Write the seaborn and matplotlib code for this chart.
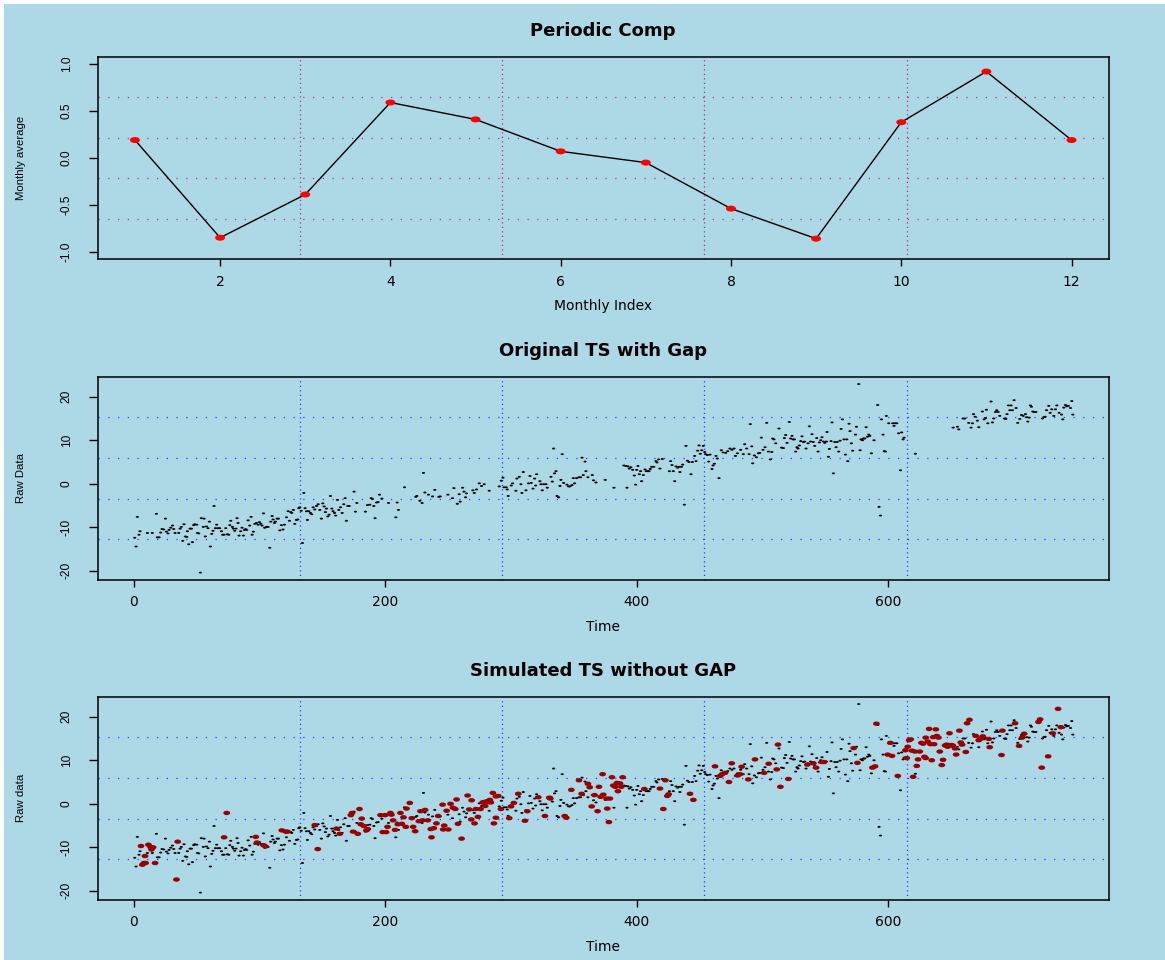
import matplotlib
matplotlib.use("Agg")
import matplotlib.pyplot as plt
from matplotlib.path import Path
from matplotlib.markers import MarkerStyle
from matplotlib.transforms import Affine2D
from matplotlib.patches import Rectangle
from matplotlib.ticker import FixedLocator, FormatStrFormatter
import seaborn as sns

# ---------------------------------------------------------------- data
month_index = [1, 2, 3, 4, 5, 6, 7, 8, 9, 10, 11, 12]
monthly_average = [0.19, -0.85, -0.39, 0.59, 0.41, 0.07, -0.05, -0.54, -0.86, 0.38, 0.92, 0.19]

observed_time = [
    0.8, 1.9, 2.9, 4.2, 5.0, 10.9, 14.8, 18.0, 18.8, 20.2, 21.5, 22.5, 23.9, 25.2, 26.0, 27.3,
    28.1, 29.4, 30.8, 31.8, 32.9, 35.8, 36.9, 37.9, 39.0, 40.0, 41.1, 42.2, 42.7, 43.8, 44.8,
    45.9, 46.7, 47.7, 48.5, 50.1, 50.7, 51.7, 53.0, 53.8, 55.4, 56.0, 57.0, 57.8, 59.1, 60.2,
    61.0, 62.1, 63.1, 63.9, 65.0, 66.0, 67.1, 68.4, 69.8, 70.8, 71.9, 73.2, 74.5, 75.6, 76.4,
    77.2, 78.5, 79.3, 80.4, 81.4, 82.2, 83.0, 83.8, 85.1, 86.2, 87.3, 88.1, 89.1, 89.9, 91.0,
    92.3, 93.4, 94.2, 95.2, 96.3, 97.6, 98.9, 100.0, 101.1, 102.1, 103.2, 104.2, 105.6, 106.9,
    108.2, 109.0, 110.1, 110.9, 111.9, 112.7, 114.1, 115.1, 116.2, 117.5, 118.8, 119.9, 121.5,
    122.8, 123.9, 124.9, 125.7, 127.0, 128.1, 129.4, 130.5, 131.3, 132.1, 133.2, 134.2, 135.3,
    136.3, 137.4, 138.2, 139.3, 140.6, 141.6, 142.7, 144.0, 145.4, 146.7, 148.0, 149.3, 150.4,
    151.5, 152.5, 153.3, 154.4, 155.4, 156.5, 157.6, 158.6, 159.7, 160.7, 162.1, 163.1, 164.5,
    165.8, 167.1, 168.2, 169.2, 170.3, 171.4, 175.3, 176.4, 177.5, 184.3, 185.9, 187.8, 188.9,
    189.9, 191.0, 192.0, 193.1, 194.4, 195.5, 197.4, 202.7, 208.5, 209.6, 210.6, 215.4, 224.4,
    225.2, 227.6, 229.4, 230.5, 231.6, 234.5, 237.7, 239.5, 242.7,
    243.8, 249.9, 253.6, 254.7, 257.4, 258.9, 259.7, 261.6, 262.7, 264.0, 264.8, 269.8, 270.9,
    272.7, 274.9, 276.7, 278.8, 282.8, 290.8, 292.4, 293.7, 294.5, 296.3, 297.1, 297.9, 300.3,
    301.4, 304.0, 304.8, 306.7, 308.0, 308.8, 309.9, 312.0, 314.1, 315.2, 316.2, 317.6, 318.9,
    319.7, 320.5, 323.1, 323.9, 325.0, 326.1, 327.9, 329.0, 331.9, 333.0, 334.0, 334.8, 335.9,
    336.7, 338.0, 339.1, 339.8, 340.9, 342.0, 344.6, 345.9, 347.0, 348.6, 349.7, 350.7, 352.3,
    354.2, 355.5, 356.6, 357.6, 359.0, 359.7, 361.3, 364.8, 365.8, 367.7, 375.1, 382.0, 389.9,
    391.6, 392.4, 393.2, 394.2, 395.5, 396.9, 398.2, 399.3, 400.1, 401.1, 402.2, 403.2, 404.0,
    405.4, 406.7, 407.7, 408.8, 409.9, 410.9, 412.0, 413.6, 415.4, 416.2, 417.6, 418.6, 420.5,
    426.1, 427.1, 428.2, 429.2, 430.3, 431.4, 432.7, 433.7, 434.5, 435.6, 436.7, 438.0, 439.3,
    440.4, 441.7, 443.3, 444.4, 446.2, 447.3, 448.6, 449.7, 450.7, 451.8, 453.1, 454.2, 455.0,
    456.3, 457.4, 458.4, 460.0, 460.8, 461.9, 463.2, 464.2, 465.6, 467.4, 468.8, 470.9, 472.5,
    474.3, 475.9, 477.5, 478.6, 480.2, 482.8, 484.9, 486.0, 487.6, 489.5, 490.5, 491.6, 492.4,
    493.7, 495.3, 496.9, 498.0, 499.3, 500.6, 502.2, 503.5, 504.9,
    506.4, 507.5, 508.3, 509.3, 510.7, 513.3, 515.4, 516.8, 517.6, 518.6, 519.7, 521.5, 522.6,
    523.7, 524.5, 525.5, 526.6, 527.6, 528.4, 529.5, 530.6, 531.6, 532.7, 533.7, 534.8, 536.4,
    537.5, 538.5, 539.6, 540.6, 541.7, 543.3, 544.4, 545.4, 546.5, 547.5, 548.6, 549.7, 551.0,
    551.5, 552.6, 553.4, 554.7, 555.5, 556.6, 557.6, 558.7, 559.7, 560.8, 561.9, 562.7, 563.7,
    565.0, 566.1, 567.2, 568.0, 569.0, 569.8, 570.9, 571.9, 574.1, 574.9, 576.7, 577.8, 578.6,
    579.6, 580.4, 581.5, 582.6, 583.6, 584.7, 585.5, 586.8, 588.9, 591.8, 592.9, 594.0, 594.8,
    596.1, 597.1, 597.9, 598.7, 600.6, 603.8, 604.8, 605.6, 607.0, 608.5, 609.9, 610.9, 612.0,
    612.8, 621.8, 651.8, 655.2, 656.3, 659.7, 661.1, 664.2, 666.1, 667.2, 668.0, 669.3, 671.1,
    672.2, 675.1, 676.5, 677.5, 678.3, 679.4, 682.0, 683.1, 684.1, 685.5, 686.5, 687.6, 688.9,
    692.6, 693.7, 694.7, 695.8, 696.9, 697.9, 699.0, 700.3, 701.9, 703.2, 704.8, 706.2, 707.5,
    709.3, 710.4, 711.2, 712.3, 713.3, 714.1, 715.2, 716.2, 717.6, 722.9, 724.0, 725.0, 726.1,
    727.9, 729.0, 730.3, 731.9, 733.2, 734.3, 736.1, 738.0, 739.0, 739.8, 741.2, 742.2, 743.5,
    745.2, 746.2, 747.0,
]
observed_value = [
    -12.4, -14.4, -7.6, -11.7, -10.9, -11.3, -11.3, -6.9, -12.3, -12.3, -11.2, -10.4, -10.5, -8.0,
    -11.0, -11.4, -10.6, -10.1, -9.6, -10.4, -11.3, -11.3, -10.3, -9.9, -13.1, -9.3, -12.1, -12.2,
    -10.9, -13.9, -10.3, -10.3, -13.4, -9.5, -9.3, -9.4, -11.3, -11.4, -20.4, -7.9, -9.9, -8.0,
    -12.1, -9.8, -10.2, -8.7, -14.4, -11.5, -10.8, -5.1, -10.2, -9.4, -10.2, -10.2, -10.9, -11.7,
    -11.7, -10.2, -11.6, -11.7, -9.5, -8.5, -9.9, -10.3, -10.8, -10.3, -7.9, -9.0, -11.9, -10.9,
    -10.1, -11.9, -10.6, -10.4, -10.6, -8.4, -9.6, -7.6, -11.7, -11.0, -9.2, -9.0, -9.4, -8.8,
    -9.2, -9.6, -6.8, -10.1, -9.9, -9.9, -14.7, -8.7, -7.4, -8.2, -9.0, -8.7, -8.0, -8.0, -10.7,
    -9.5, -10.5, -9.4, -7.7, -6.3, -8.5, -6.5, -6.7, -6.0, -9.2, -8.3, -8.2, -5.6, -5.4, -6.2,
    -13.6, -2.1, -5.6, -6.3, -8.3, -6.3, -6.7, -7.0, -5.4, -5.9, -5.1, -4.7, -6.0, -8.0, -4.5,
    -5.2, -6.5, -5.7, -7.5, -7.1, -2.8, -5.7, -6.3, -6.7, -7.3, -3.7, -6.0, -5.4, -6.7, -4.7,
    -3.3, -8.5, -5.1, -5.1, -1.8, -6.4, -4.4, -6.4, -4.9, -4.8, -3.3, -3.5, -5.1, -7.9, -4.3,
    -4.2, -2.5, -3.4, -4.4, -7.7, -4.3, -6.0, -0.8, -3.0, -2.8, -3.9, -4.4, 2.5, -2.0, -2.5,
    -2.9, -1.4, -3.0,
    -2.9, -2.5, -3.3, -1.0, -4.6, -2.4, -4.1, -0.9, -1.8, -3.1, -2.2, -1.5, -2.1, -1.3, 0.1,
    -0.5, -0.1, -1.6, -0.6, 0.7, 1.4, -0.8, -0.8, -1.3, -2.8, -0.4, 0.1, -1.6, 1.2, 1.6, -0.1,
    -2.1, 2.7, -1.5, 0.1, 1.8, 0.2, -1.1, 1.2, -0.4, 2.2, 0.6, -0.1, -1.5, -0.1, -0.1, -0.9,
    1.6, 0.5, 8.1, 2.4, 2.9, -2.8, -3.1, -0.5, 0.9, 6.8, 0.2, -0.2, -0.6, -0.6, -0.3, 1.3, 0.1,
    1.3, 1.5, 1.5, 6.0, 2.0, 5.1, 2.9, 1.5, 2.0, 0.8, 0.3, 0.9, -0.9, 4.2, 4.1, -0.9, 4.0, 3.5,
    3.8, 3.2, 1.9, -0.2, 3.2, 4.1, 2.2, 2.9, 0.6, 2.0, 3.3, 2.9, 2.9, 2.9, 3.4, 3.9, 3.9, 5.2,
    4.9, 5.6, 3.5, 5.7, 2.9, 5.2, 4.3, 2.9, 0.6, 4.0, 3.7, 3.9, 2.7, 3.9, 4.4, -4.8, 8.7, 5.3,
    5.0, 2.2, 5.0, 6.4, 5.2, 7.6, 8.8, 6.9, 7.7, 8.7, 7.3, 6.8, 6.6, 5.1, 6.7, 3.4, 4.2, 4.6,
    6.4, 5.8, 1.3, 7.7, 7.2, 7.1, 7.5, 8.1, 7.8, 8.1, 6.4, 7.0, 7.8, 6.8, 9.1, 8.1, 6.8, 13.7,
    8.6, 4.7, 6.5, 6.1, 7.0, 7.1, 10.6, 7.8, 8.4, 14.0, 7.4,
    5.6, 7.3, 10.4, 10.2, 9.3, 12.7, 8.3, 8.2, 10.5, 11.2, 9.4, 14.2, 10.4, 11.0, 10.2, 10.2,
    7.4, 8.4, 8.1, 8.8, 9.8, 10.9, 9.6, 9.7, 8.1, 9.3, 13.2, 9.7, 11.4, 9.6, 8.7, 10.5, 7.4,
    9.5, 10.0, 10.7, 9.7, 9.4, 9.7, 11.9, 6.2, 8.0, 9.8, 14.1, 2.4, 9.6, 8.4, 9.6, 7.4, 9.9,
    12.6, 14.8, 10.2, 6.7, 10.2, 5.2, 13.8, 12.1, 9.3, 7.6, 11.3, 13.1, 22.9, 7.7, 10.2, 10.0,
    10.4, 10.4, 13.0, 10.8, 11.3, 11.0, 7.0, 10.0, 18.1, -5.3, -7.3, 14.8, 11.3, 7.5, 7.4, 15.6,
    13.9, 13.9, 13.3, 13.9, 13.9, 11.6, 3.1, 11.8, 10.2, 10.6, 6.9, 12.9, 13.1, 12.5, 15.0,
    15.0, 14.0, 12.9, 13.9, 16.0, 15.4, 14.5, 13.0, 16.6, 14.8, 15.1, 17.0, 13.9, 18.9, 14.1,
    15.0, 16.5, 16.9, 16.5, 15.6, 15.0, 14.9, 16.0, 18.0, 16.9, 18.0, 16.9, 19.2, 17.4, 14.0,
    14.9, 15.8, 15.6, 16.0, 15.3, 14.3, 15.2, 18.0, 17.7, 16.6, 16.5, 16.5, 15.0, 15.3, 15.4,
    16.9, 17.9, 16.3, 17.1, 15.6, 17.1, 18.0, 16.3, 15.9, 14.8, 17.5, 18.1, 17.8, 17.9, 17.4,
    19.0, 15.9,
]

filled_time = [
    5.8, 6.9, 8.2, 9.5, 9.0, 11.7, 13.3, 14.1, 15.4, 17.0, 34.0, 35.0, 71.9, 74.0, 97.1, 98.1,
    103.2, 104.8, 117.8, 121.0, 122.3, 144.0, 146.4, 161.3, 163.9, 172.7, 173.7, 174.5, 178.3,
    179.6, 180.6, 181.4, 183.0, 185.1, 186.2, 196.3, 198.1, 200.0, 200.8, 201.9, 204.2, 205.0,
    206.4, 207.9, 210.1, 212.2, 213.3, 214.6, 216.4, 217.0, 219.6, 221.2, 222.3, 223.9, 226.8,
    228.1, 229.7, 231.8, 233.9, 236.3, 236.9, 238.7, 240.8, 242.2,
    245.7, 247.0, 246.2, 250.2, 248.9, 252.0, 253.9, 255.8, 256.8, 257.9, 260.8, 265.6, 266.9,
    268.8, 268.5, 271.1, 272.2, 273.8, 275.9, 277.5, 278.6, 279.6, 281.0, 282.3, 283.3, 284.1,
    285.7, 286.5, 288.1, 288.1, 290.0, 292.1, 298.7, 300.1, 302.4, 305.9, 311.2, 313.1, 321.8,
    327.1, 330.6, 331.4, 342.8, 344.1, 348.1, 354.2, 356.3, 361.3, 362.7, 364.3, 366.6, 369.0,
    370.1, 371.4, 373.0, 373.5, 376.2, 376.7, 378.0, 378.8, 380.4, 381.5, 383.1, 384.4, 385.2,
    386.8, 388.9, 387.9, 406.2, 418.6, 421.3, 422.9, 424.5, 425.5, 442.5, 445.2, 462.4, 466.4,
    468.0, 470.4, 473.5, 475.7, 480.4, 483.6, 482.3, 488.9, 494.2, 501.4, 505.1,
    511.5, 512.5, 514.4, 520.7, 535.9, 540.6, 542.8, 547.3, 549.1, 572.7, 575.7, 587.6, 589.7,
    590.8, 599.8, 601.9, 603.2, 607.8, 613.9, 614.9, 615.7, 616.8, 618.1, 619.1, 620.0, 621.5,
    622.9, 623.9, 625.3, 626.6, 627.9, 629.0, 630.0, 630.0, 631.6, 632.7, 633.7, 634.8, 635.9,
    636.7, 638.0, 638.8, 640.1, 641.2, 642.8, 643.8, 645.4, 646.7, 647.5, 648.9, 650.2, 651.5,
    653.4, 654.2, 656.8, 657.9, 658.9, 661.9, 662.9, 664.8, 669.8, 672.2, 673.5, 675.4, 680.2,
    680.9, 690.3, 691.0, 701.1, 704.3, 706.7, 708.3, 719.7, 721.0, 722.3, 727.4, 731.1, 735.3,
    737.5,
]
filled_value = [
    -9.7, -14.0, -13.6, -13.6, -12.0, -9.4, -9.9, -10.5, -10.0, -13.6, -17.4, -8.7, -7.7, -2.1,
    -7.6, -8.9, -9.5, -9.8, -6.1, -6.4, -6.4, -4.9, -10.4, -5.7, -6.9, -2.6, -2.1, -6.4, -6.9,
    -1.2, -4.7, -3.4, -5.1, -6.1, -5.8, -2.6, -6.5, -2.6, -6.5, -5.3, -2.1, -2.5, -3.8, -6.0,
    -4.7, -2.1, -4.6, -3.1, -5.3, -1.1, 0.2, -3.3, -5.3, -6.3, -4.0, -1.7, -3.8, -1.4, -3.8,
    -5.8, -7.7, -5.6, -4.5, -2.8,
    -0.2, -5.0, -5.9, -5.9, -1.6, 0.0, -0.9, -1.2, 1.0, -4.6, -8.0, 1.9, -1.3, 0.8, -3.6, -4.5,
    -1.2, -3.0, -1.2, 0.3, 0.4, -0.5, 0.6, 0.4, 0.9, 0.3, 2.5, -4.5, 1.7, -3.2, 1.8, -1.2, -3.3,
    -0.6, 0.2, 2.3, -3.9, -1.7, 1.5, -2.8, 1.4, 1.2, -2.8, -3.2, 3.2, 5.4, 2.3, 4.6, 3.8, -0.6,
    2.0, -1.7, 3.9, 1.6, 6.8, 2.1, 1.2, -1.1, -4.2, 1.2, 6.1, 4.2, 3.9, 4.8, 2.9, 4.7, 6.1, 3.9,
    3.4, 3.5, -1.2, 5.4, 1.8, 2.2, 2.3, 0.9, 8.6, 6.4, 6.8, 7.1, 5.0, 9.3, 6.5, 8.5, 6.8, 5.6,
    10.2, 7.1, 9.2,
    7.9, 13.6, 3.9, 5.7, 9.0, 9.3, 8.3, 9.6, 9.6, 12.8, 9.4, 8.3, 8.6, 18.4, 11.3, 14.0, 11.0,
    6.4, 12.3, 10.5, 13.1, 14.6, 14.8, 12.2, 6.2, 12.0, 8.7, 10.2, 12.0, 14.0, 13.8, 10.8, 10.5,
    15.2, 14.3, 17.2, 13.7, 10.0, 15.3, 13.7, 17.1, 15.6, 15.2, 12.0, 8.9, 10.1, 13.4, 13.6,
    13.1, 16.2, 13.5, 13.4, 12.7, 11.3, 16.8, 14.1, 13.6, 11.9, 18.5, 19.3, 15.6, 14.6, 14.9,
    15.5, 14.9, 13.0, 11.2, 16.8, 18.5, 13.3, 15.2, 16.1, 18.8, 19.4, 8.3, 10.9, 16.2, 21.8,
    17.6,
]

# ---------------------------------------------------------------- styling
sns.set_theme(style="ticks")
plt.rcParams["font.family"] = ["DejaVu Sans"]
plt.rcParams["axes.unicode_minus"] = True

BG = "#ADD8E6"
PX = 0.72  # points per pixel at 100 dpi
NARROW = ["Liberation Sans", "DejaVu Sans"]

fig = plt.figure(figsize=(11.65, 9.6), dpi=100, facecolor="white")
fig.patches.append(Rectangle((4 / 1165, 0), 1, 1 - 4 / 960, transform=fig.transFigure,
                             facecolor=BG, edgecolor="none", zorder=-10))

LEFT, WIDTH = 97.5 / 1165, 1011.5 / 1165
ax1 = fig.add_axes([LEFT, 1 - 259.3 / 960, WIDTH, 202.8 / 960])
ax2 = fig.add_axes([LEFT, 1 - 580.0 / 960, WIDTH, 203.3 / 960])
ax3 = fig.add_axes([LEFT, 1 - 900.0 / 960, WIDTH, 203.3 / 960])


def ellipse_marker(ratio):
    return MarkerStyle(Path.unit_circle().transformed(Affine2D().scale(1.0, ratio)))


def dotted_grid(ax, color):
    # R-style grid(5, 5): four equally spaced dotted lines in each direction
    x0, x1 = ax.get_xlim()
    y0, y1 = ax.get_ylim()
    for f in (0.2, 0.4, 0.6, 0.8):
        ax.axvline(x0 + f * (x1 - x0), color=color, lw=0.9, dashes=(1.0, 2.6), zorder=1)
        ax.axhline(y0 + f * (y1 - y0), color=color, lw=0.9, dashes=(1.0, 6.8), zorder=1)


def style_axes(ax, title, xlabel, ylabel):
    ax.set_facecolor(BG)
    for sp in ax.spines.values():
        sp.set_visible(True)
        sp.set_color("black")
        sp.set_linewidth(1.1)
    ax.set_title(title, fontsize=13, fontweight="bold", color="black", pad=15)
    ax.set_xlabel(xlabel, fontsize=10, color="black")
    ax.xaxis.set_label_coords(0.5, -0.197)
    ax.set_ylabel(ylabel, fontsize=8.2, color="black", family=NARROW)
    ax.yaxis.set_label_coords(-0.0707, 0.5)
    ax.tick_params(axis="x", direction="out", length=4.8, width=1.0, pad=6.2,
                   labelsize=10, colors="black")
    ax.tick_params(axis="y", direction="out", length=6.8, width=1.0, pad=11.0,
                   labelsize=8.6, colors="black", labelrotation=90)
    for lab in ax.get_yticklabels():
        lab.set_verticalalignment("center")
        lab.set_family(NARROW)
    ax.grid(False)


# ---- monthly periodic component
sns.lineplot(x=month_index, y=monthly_average, color="black", lw=1.0, ax=ax1,
             zorder=2, sort=False)
sns.scatterplot(x=month_index, y=monthly_average, color="#FF0000", marker=ellipse_marker(0.6),
                s=(10 * PX) ** 2, linewidth=0, edgecolor="none", ax=ax1, zorder=3)
ax1.set_xlim(0.56, 12.44)
ax1.set_ylim(-1.08, 1.08)
ax1.xaxis.set_major_locator(FixedLocator([2, 4, 6, 8, 10, 12]))
ax1.yaxis.set_major_locator(FixedLocator([-1.0, -0.5, 0.0, 0.5, 1.0]))
ax1.yaxis.set_major_formatter(FormatStrFormatter("%.1f"))
dotted_grid(ax1, "#B0308A")
style_axes(ax1, "Periodic Comp", "Monthly Index", "Monthly average")
ax1.xaxis.set_label_coords(0.5, -0.198)

# ---- raw series with gaps, and with gaps filled
black_dot = ellipse_marker(0.6)
red_dot = ellipse_marker(0.65)
for ax in (ax2, ax3):
    sns.scatterplot(x=observed_time, y=observed_value, color="black", marker=black_dot,
                    s=(3.2 * PX) ** 2, linewidth=0, edgecolor="none", ax=ax, zorder=3)
sns.scatterplot(x=filled_time, y=filled_value, color="#9A0000", marker=red_dot,
                s=(6.8 * PX) ** 2, linewidth=0, edgecolor="none", ax=ax3, zorder=4)

for ax, title, ylab in ((ax2, "Original TS with Gap", "Raw Data"),
                        (ax3, "Simulated TS without GAP", "Raw data")):
    ax.set_xlim(-28.8, 775.8)
    ax.set_ylim(-22.1, 24.6)
    ax.xaxis.set_major_locator(FixedLocator([0, 200, 400, 600]))
    ax.yaxis.set_major_locator(FixedLocator([-20, -10, 0, 10, 20]))
    ax.yaxis.set_major_formatter(FormatStrFormatter("%d"))
    dotted_grid(ax, "#2A3CFF")
    style_axes(ax, title, "Time", ylab)

fig.savefig("out.png", dpi=100, facecolor=fig.get_facecolor())
